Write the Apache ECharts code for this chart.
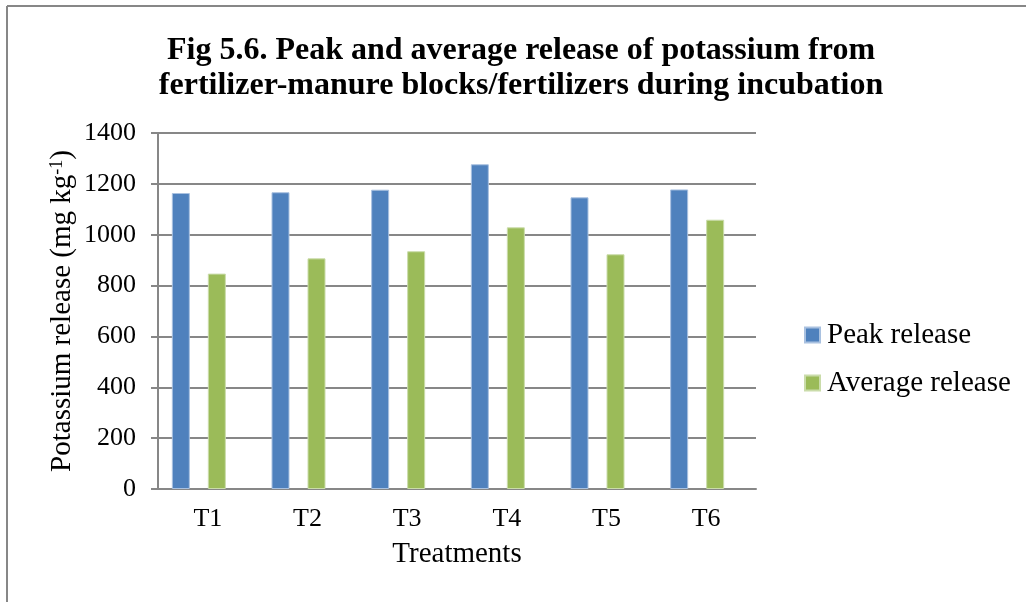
<!DOCTYPE html>
<html>
<head>
<title>potassium-release</title>
<meta http-equiv="content-type" content="text/html; charset=UTF-8">
<style type="text/css">
html, body {
	margin: 0;
	padding: 0;
	background: #fff;
}

#main {
	width: 1026px;
	height: 602px;
}
</style>
<script src="https://cdn.jsdelivr.net/npm/echarts@6/dist/echarts.min.js"></script>
</head>

<body>
	<div id="main"></div>
	<script type="text/javascript">
		// data
		var treatments = [ 'T1', 'T2', 'T3', 'T4', 'T5', 'T6' ];
		var peakRelease = [ 1164, 1167, 1177, 1277, 1147, 1178 ];
		var averageRelease = [ 847, 907, 935, 1029, 923, 1059 ];
		var yTicks = [ 0, 200, 400, 600, 800, 1000, 1200, 1400 ];

		var serif = 'Liberation Serif';
		var grey = '#878787';

		var myChart = echarts.init(document.getElementById('main'));

		option = {
			backgroundColor : '#fff',
			animation : false,
			title : {
				text : 'Fig 5.6. Peak and average release of potassium from\nfertilizer-manure blocks/fertilizers during incubation',
				left : 516,
				top : 28,
				textAlign : 'center',
				textStyle : {
					fontFamily : serif,
					fontWeight : 'bold',
					fontSize : 32,
					lineHeight : 35,
					color : '#000'
				}
			},
			// outer frame, only top and left edges are visible in the figure
			graphic : [ {
				type : 'line',
				shape : { x1 : 7, y1 : 6, x2 : 1026, y2 : 6 },
				style : { stroke : grey, lineWidth : 2 }
			}, {
				type : 'line',
				shape : { x1 : 7, y1 : 6, x2 : 7, y2 : 602 },
				style : { stroke : grey, lineWidth : 2 }
			} ],
			legend : {
				data : [ 'Peak release', 'Average release' ],
				orient : 'vertical',
				left : 799,
				top : 315,
				icon : 'rect',
				itemWidth : 15,
				itemHeight : 15,
				itemGap : 18,
				textStyle : {
					fontFamily : serif,
					fontSize : 29,
					lineHeight : 30,
					color : '#000',
					padding : [ 0, 0, 0, 2 ]
				}
			},
			grid : {
				left : 158,
				right : 270,
				top : 133,
				bottom : 113
			},
			xAxis : {
				type : 'category',
				data : treatments,
				name : 'Treatments',
				nameLocation : 'middle',
				nameGap : 51,
				nameMoveOverlap : false,
				nameTextStyle : {
					fontFamily : serif,
					fontSize : 29,
					color : '#000'
				},
				axisLine : { lineStyle : { color : grey, width : 2 } },
				axisTick : { show : false },
				axisLabel : {
					margin : 17,
					fontFamily : serif,
					fontSize : 26,
					color : '#000'
				}
			},
			yAxis : {
				type : 'value',
				min : yTicks[0],
				max : yTicks[yTicks.length - 1],
				interval : 200,
				name : 'Potassium release (mg kg{sup|-1})',
				nameLocation : 'middle',
				nameGap : 81,
				nameMoveOverlap : false,
				nameTextStyle : {
					fontFamily : serif,
					fontSize : 29,
					lineHeight : 29,
					color : '#000',
					rich : {
						sup : {
							fontFamily : serif,
							fontSize : 18,
							lineHeight : 18,
							verticalAlign : 'top',
							color : '#000'
						}
					}
				},
				axisLine : { show : true, lineStyle : { color : grey, width : 2 } },
				axisTick : { show : true, length : 7, lineStyle : { color : grey, width : 2 } },
				splitLine : { lineStyle : { color : grey, width : 2 } },
				axisLabel : {
					margin : 22,
					fontFamily : serif,
					fontSize : 26,
					color : '#000',
					formatter : function(v) {
						return String(v);
					}
				}
			},
			series : [ {
				name : 'Peak release',
				type : 'bar',
				data : peakRelease,
				barWidth : 18,
				barGap : '0%',
				itemStyle : { color : '#4f81bd', borderColor : '#a9c1e0', borderWidth : 1 }
			}, {
				// empty slot kept in the cluster, as in the source workbook
				name : 'blank1',
				type : 'bar',
				data : [],
				barWidth : 18,
				barGap : '0%'
			}, {
				name : 'Average release',
				type : 'bar',
				data : averageRelease,
				barWidth : 18,
				barGap : '0%',
				itemStyle : { color : '#9bbb59', borderColor : '#cadcaa', borderWidth : 1 }
			}, {
				name : 'blank2',
				type : 'bar',
				data : [],
				barWidth : 18,
				barGap : '0%'
			} ]
		};

		myChart.setOption(option);
	</script>
</body>
</html>
